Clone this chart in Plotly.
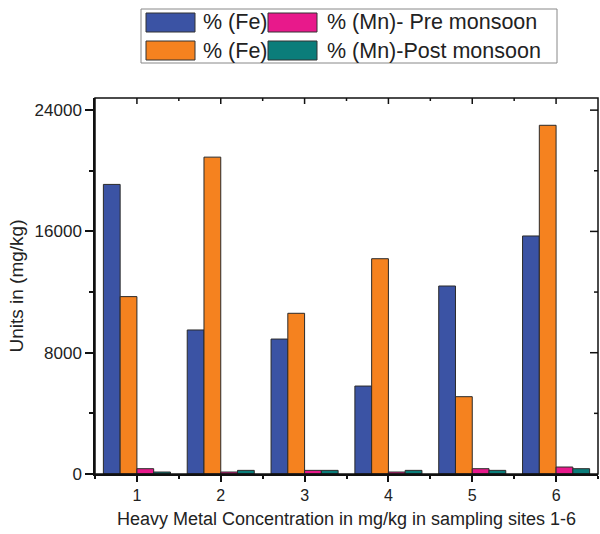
import plotly.graph_objects as go

# ---- data ----
sites = [1, 2, 3, 4, 5, 6]
fe_pre = [19100, 9500, 8900, 5800, 12400, 15700]
fe_post = [11700, 20900, 10600, 14200, 5100, 23000]
mn_pre = [350, 130, 240, 130, 350, 460]
mn_post = [130, 240, 240, 240, 240, 350]
series_names = ["% (Fe)", "% (Fe)", "% (Mn)- Pre monsoon", "% (Mn)-Post monsoon"]
series_values = [fe_pre, fe_post, mn_pre, mn_post]
colors = ["#3B53A4", "#F5821F", "#E8198B", "#0B7D7A"]
y_ticks = [0, 8000, 16000, 24000]
y_ticktext = ["0", "8000", "16000", "24000"]
x_title = "Heavy Metal Concentration in mg/kg in sampling sites 1-6"
y_title = "Units in (mg/kg)"

# ---- layout constants ----
W, H = 600, 534
L, R, T, B = 95, 2, 98, 60
PW, PH = W - L - R, H - T - B
FONT = "Liberation Sans, Arial, sans-serif"
FRAME = "#111"


def px_x(px):
    return (px - L) / PW


def px_y(py):
    return (H - B - py) / PH


fig = go.Figure()
for name, vals, col in zip(series_names, series_values, colors):
    fig.add_trace(go.Bar(
        x=sites, y=vals, name=name,
        marker=dict(color=col, line=dict(color="#2a2a2a", width=1)),
        showlegend=False,
    ))

axis_common = dict(showline=True, linecolor=FRAME, linewidth=1.5,
                   tickcolor=FRAME, tickwidth=1.5, showgrid=False, zeroline=False,
                   automargin=False)

fig.update_layout(
    width=W, height=H,
    margin=dict(l=L, r=R, t=T, b=B),
    paper_bgcolor="white", plot_bgcolor="white",
    barmode="group", bargap=0.2, bargroupgap=0,
    font=dict(family=FONT, color="#222"),
    xaxis=dict(range=[0.5, 6.5], tickmode="array", tickvals=sites,
               ticks="outside", ticklen=6,
               minor=dict(ticks="outside", ticklen=3, tick0=0.5, dtick=1,
                          tickcolor=FRAME, tickwidth=1.5),
               tickfont=dict(size=16, color="#222"),
               title=dict(text=x_title, font=dict(size=18, color="#222"), standoff=9),
               **axis_common),
    yaxis=dict(range=[0, 24800], tickmode="array", tickvals=y_ticks, ticktext=y_ticktext,
               ticks="outside", ticklen=8,
               minor=dict(ticks="outside", ticklen=4, tick0=0, dtick=4000,
                          tickcolor=FRAME, tickwidth=1.5),
               tickfont=dict(size=17, color="#222"),
               title=dict(text=y_title, font=dict(size=19, color="#222"), standoff=6),
               **axis_common),
)

shapes = []
# ---- plot frame (top / right sides) with inward ticks, positions from tick arrays ----
shapes.append(dict(type="rect", xref="paper", yref="paper", x0=0, x1=1, y0=0, y1=1,
                   line=dict(color=FRAME, width=1.5), fillcolor="rgba(0,0,0,0)",
                   layer="above"))
x_minor = [(a + b) / 2 for a, b in zip(sites[:-1], sites[1:])]
y_minor = [(a + b) / 2 for a, b in zip(y_ticks[:-1], y_ticks[1:])]
for xv, ln in [(v, 6) for v in sites] + [(v, 3) for v in x_minor]:
    shapes.append(dict(type="line", xref="x", yref="paper", x0=xv, x1=xv,
                       y0=1, y1=1 - ln / PH, line=dict(color=FRAME, width=1.5),
                       layer="above"))
for yv, ln in [(v, 8) for v in y_ticks[1:]] + [(v, 4) for v in y_minor]:
    shapes.append(dict(type="line", xref="paper", yref="y", x0=1, x1=1 - ln / PW,
                       y0=yv, y1=yv, line=dict(color=FRAME, width=1.5),
                       layer="above"))

# ---- custom legend (wide swatches, 2x2 grid) ----
shapes.append(dict(type="rect", xref="paper", yref="paper",
                   x0=px_x(141), x1=px_x(557), y0=px_y(63), y1=px_y(9),
                   line=dict(color="#888", width=1), fillcolor="white", layer="above"))
annotations = []
# grid: row 0 = pre monsoon (trace 0, 2), row 1 = post monsoon (trace 1, 3)
legend_grid = [[0, 2], [1, 3]]
col_swatch_x = [146, 268]
col_text_x = [201, 325]
row_y = [(13, 32), (41, 60)]
for r, row in enumerate(legend_grid):
    for c, idx in enumerate(row):
        y0, y1 = row_y[r]
        sx = col_swatch_x[c]
        shapes.append(dict(type="rect", xref="paper", yref="paper",
                           x0=px_x(sx), x1=px_x(sx + 49),
                           y0=px_y(y1), y1=px_y(y0),
                           fillcolor=colors[idx], line=dict(color="#333", width=1),
                           layer="above"))
        annotations.append(dict(xref="paper", yref="paper",
                                x=px_x(col_text_x[c]), y=px_y((y0 + y1) / 2),
                                xanchor="left", yanchor="middle", showarrow=False,
                                text=series_names[idx],
                                font=dict(size=21.5, color="#222", family=FONT)))
fig.update_layout(shapes=shapes, annotations=annotations)

fig.write_html("out.html", config={"displayModeBar": False},
               post_script="document.body.style.margin='0';")
